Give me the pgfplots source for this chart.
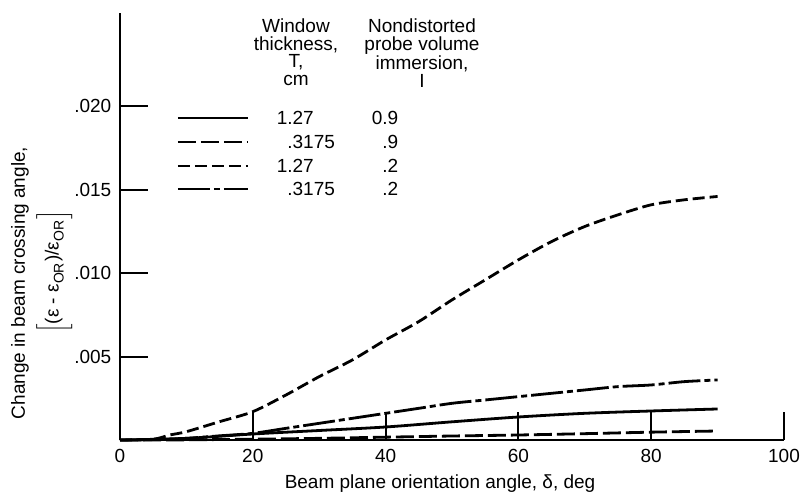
\documentclass[border=0pt]{standalone}
\usepackage{pgfplots}
\pgfplotsset{compat=1.18}
\usepackage{fontspec}
\setmainfont{Liberation Sans}

% Curves: change in beam crossing angle vs. beam plane orientation angle
\pgfplotstableread{
x      y
0      0
10     0.0001
20     0.00036
30     0.00057
40     0.00078
50     0.00109
60     0.00138
70     0.00160
80     0.00174
90     0.00186
}\thickNine
\pgfplotstableread{
x      y
0      0
10     0.00001
20     0.00005
30     0.00010
40     0.00017
50     0.00024
60     0.00030
70     0.00038
80     0.00047
90     0.00054
}\thinNine
\pgfplotstableread{
x      y
0      0
5      0.00005
7.5    0.0003
10     0.0005
15     0.0011
20     0.0017
25     0.0027
30     0.0038
35     0.0048
40     0.0060
45     0.0071
50     0.0084
55     0.0096
60     0.0108
65     0.0119
70     0.0128
75     0.0135
80     0.0141
85     0.0144
90     0.0146
}\thickTwo
\pgfplotstableread{
x      y
0      0
5      0.00002
10     0.0001
15     0.00025
20     0.0004
25     0.0007
30     0.0010
35     0.0013
40     0.0016
45     0.0019
50     0.0022
55     0.0024
60     0.0026
65     0.0028
70     0.0030
75     0.0032
80     0.0033
85     0.0035
90     0.0036
}\thinTwo

\tikzset{
  solidline/.style={line width=1.4pt},
  longdash/.style={line width=1.4pt, dash pattern=on 9pt off 2.5pt},
  shortdash/.style={line width=1.4pt, dash pattern=on 6pt off 2.5pt},
  dashdot/.style={line width=1.4pt, dash pattern=on 16pt off 2pt on 3pt off 2pt},
}

\begin{document}
\fontsize{9.5}{11}\selectfont
\begin{tikzpicture}
\path[use as bounding box] (-60pt,-27.5pt) rectangle (340pt,220pt);
\begin{axis}[
  at={(0pt,0pt)}, anchor=south west,
  scale only axis, width=332pt, height=213.5pt,
  xmin=0, xmax=100, ymin=0, ymax=0.0256,
  axis x line=bottom, axis y line=left,
  axis line style={-, line width=1.1pt},
  xtick={0,20,40,60,80,100},
  xticklabels={0,20,40,60,80,100},
  ytick={0.005,0.010,0.015,0.020},
  yticklabels={.005,.010,.015,.020},
  scaled y ticks=false,
  tick align=inside, major tick length=14pt,
  tick style={line width=1pt, black},
  xticklabel style={font=\fontsize{9.5}{11}\selectfont, yshift=-1pt},
  yticklabel style={font=\fontsize{9.5}{11}\selectfont, xshift=-1pt},
  xlabel={Beam plane orientation angle, δ, deg},
  every axis x label/.style={at={(axis description cs:0.482,0)}, anchor=base, yshift=-24pt},
  clip=false,
]
\addplot[solidline, smooth] table[x=x,y=y] {\thickNine};
\addplot[longdash, smooth] table[x=x,y=y] {\thinNine};
\addplot[shortdash, smooth] table[x=x,y=y] {\thickTwo};
\addplot[dashdot, smooth] table[x=x,y=y] {\thinTwo};
\end{axis}

% y-axis label
\node[rotate=90, anchor=center] at (-50pt,78.5pt) {Change in beam crossing angle,};
\node[rotate=90, anchor=center] at (-33pt,84pt)
  {$\Bigl[\mbox{(ε - ε}_{\mbox{\scriptsize OR}}\mbox{)/ε}_{\mbox{\scriptsize OR}}\Bigr]$};

% key: column headings
\node[anchor=north, align=center, font=\fontsize{9.5}{8.8}\selectfont] at (88pt,214pt)
  {Window\\thickness,\\T,\\cm};
\node[anchor=north, align=center, font=\fontsize{9.5}{8.8}\selectfont] at (151pt,214pt)
  {Nondistorted\\probe volume\\immersion,\\I};

% key: line samples and values
\draw[solidline] (29pt,161pt) -- ++(35pt,0);
\draw[longdash]  (29pt,149pt) -- ++(35pt,0);
\draw[shortdash] (29pt,137pt) -- ++(35pt,0);
\draw[dashdot]   (29pt,125.5pt) -- ++(35pt,0);
\node[anchor=base west, inner sep=0] at (83.5pt,158pt) {\llap{1}.27};
\node[anchor=base west, inner sep=0] at (83.5pt,146pt) {.3175};
\node[anchor=base west, inner sep=0] at (83.5pt,134pt) {\llap{1}.27};
\node[anchor=base west, inner sep=0] at (83.5pt,122.5pt) {.3175};
\node[anchor=base west, inner sep=0] at (131pt,158pt) {\llap{0}.9};
\node[anchor=base west, inner sep=0] at (131pt,146pt) {.9};
\node[anchor=base west, inner sep=0] at (131pt,134pt) {.2};
\node[anchor=base west, inner sep=0] at (131pt,122.5pt) {.2};
\end{tikzpicture}
\end{document}
